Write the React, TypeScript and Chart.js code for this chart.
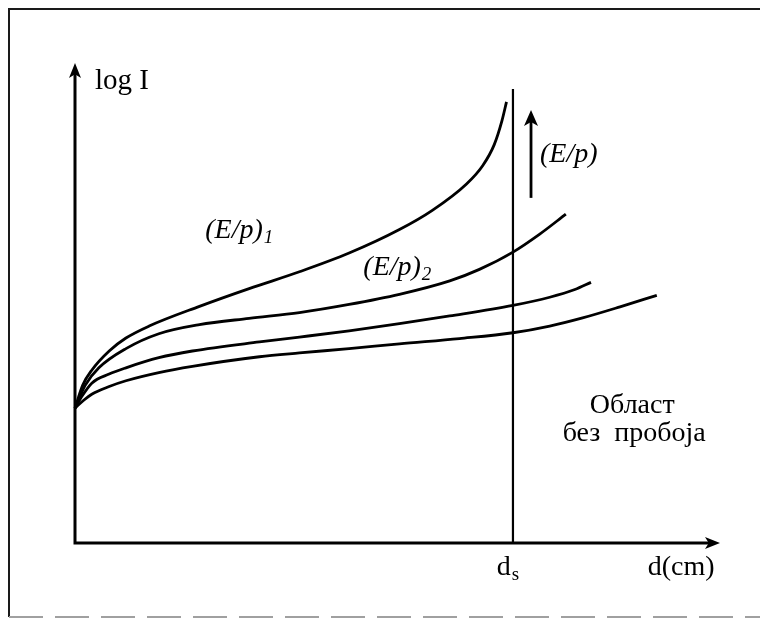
import { useEffect, useRef } from "react";
import { Chart, registerables } from "chart.js";

Chart.register(...registerables);

// d (arbitrary units) and log I (arbitrary units)
const curve1D = [0, 0.12, 0.26, 0.53, 0.79, 1.15, 1.93, 2.7, 3.48, 4.25, 5.03, 5.54, 6.07, 6.32, 6.5, 6.62, 6.69];
const curve1LogI = [2.81, 3.29, 3.6, 4.0, 4.27, 4.52, 4.93, 5.3, 5.65, 6.04, 6.53, 6.93, 7.48, 7.86, 8.3, 8.8, 9.19];

const curve2D = [0, 0.16, 0.37, 0.79, 1.3, 1.93, 2.7, 3.48, 4.25, 5.03, 5.81, 6.27, 6.79, 7.2, 7.61];
const curve2LogI = [2.81, 3.29, 3.65, 4.05, 4.36, 4.55, 4.68, 4.8, 4.97, 5.18, 5.46, 5.7, 6.06, 6.43, 6.85];

const curve3D = [0, 0.09, 0.26, 0.53, 0.79, 1.3, 1.82, 2.86, 3.48, 4.25, 5.03, 5.81, 6.79, 7.36, 7.75, 8.0];
const curve3LogI = [2.81, 3.02, 3.33, 3.52, 3.65, 3.86, 4.0, 4.19, 4.29, 4.42, 4.57, 4.73, 4.95, 5.12, 5.28, 5.43];

const curve4D = [0, 0.14, 0.26, 0.53, 0.79, 1.3, 1.82, 2.86, 3.48, 4.25, 5.03, 5.96, 6.79, 7.36, 7.87, 8.45, 9.02];
const curve4LogI = [2.81, 2.98, 3.1, 3.26, 3.38, 3.55, 3.68, 3.88, 3.96, 4.05, 4.15, 4.26, 4.38, 4.52, 4.69, 4.92, 5.16];

const dsLineD = [6.79, 6.79];
const dsLineLogI = [0, 9.46];

const ePArrowD = 7.07;
const ePArrowLogI = [7.19, 9.02];

const axisMax = 10;

const zip = (xs: number[], ys: number[]) => xs.map((x, i) => ({ x, y: ys[i] }));

const SERIF = '"Liberation Serif", "Times New Roman", serif';

function arrowHead(ctx: CanvasRenderingContext2D, x: number, y: number, dir: "up" | "right", len: number, half: number) {
  ctx.beginPath();
  if (dir === "up") {
    ctx.moveTo(x, y);
    ctx.lineTo(x - half, y + len);
    ctx.lineTo(x, y + len * 0.75);
    ctx.lineTo(x + half, y + len);
  } else {
    ctx.moveTo(x, y);
    ctx.lineTo(x - len, y - half);
    ctx.lineTo(x - len * 0.75, y);
    ctx.lineTo(x - len, y + half);
  }
  ctx.closePath();
  ctx.fill();
}

const diagramPlugin = {
  id: "diagram",
  beforeDraw(chart: any) {
    const ctx: CanvasRenderingContext2D = chart.ctx;
    ctx.save();
    ctx.fillStyle = "#fff";
    ctx.fillRect(0, 0, chart.width, chart.height);
    ctx.strokeStyle = "#1a1a1a";
    ctx.lineWidth = 2;
    ctx.beginPath();
    ctx.moveTo(chart.width + 5, 9);
    ctx.lineTo(9, 9);
    ctx.lineTo(9, 617);
    ctx.stroke();
    ctx.strokeStyle = "#a0a0a0";
    ctx.setLineDash([34, 12]);
    ctx.beginPath();
    ctx.moveTo(9, 617);
    ctx.lineTo(chart.width, 617);
    ctx.stroke();
    ctx.restore();
  },
  afterDatasetsDraw(chart: any) {
    const ctx: CanvasRenderingContext2D = chart.ctx;
    const xs = chart.scales.x;
    const ys = chart.scales.y;
    const px = (v: number) => xs.getPixelForValue(v);
    const py = (v: number) => ys.getPixelForValue(v);
    ctx.save();
    ctx.strokeStyle = "#000";
    ctx.fillStyle = "#000";
    ctx.lineWidth = 3;
    ctx.lineCap = "butt";
    // axes
    ctx.beginPath();
    ctx.moveTo(px(0), py(0) + 1.5);
    ctx.lineTo(px(0), py(axisMax) + 8);
    ctx.moveTo(px(0) - 1.5, py(0));
    ctx.lineTo(px(axisMax) - 8, py(0));
    ctx.stroke();
    arrowHead(ctx, px(0), py(axisMax), "up", 15, 6);
    arrowHead(ctx, px(axisMax), py(0), "right", 15, 6);
    // E/p arrow
    ctx.lineWidth = 2.8;
    ctx.beginPath();
    ctx.moveTo(px(ePArrowD), py(ePArrowLogI[0]));
    ctx.lineTo(px(ePArrowD), py(ePArrowLogI[1]) + 8);
    ctx.stroke();
    arrowHead(ctx, px(ePArrowD), py(ePArrowLogI[1]), "up", 16, 7);

    // labels
    ctx.textBaseline = "alphabetic";
    ctx.textAlign = "left";
    const sub = (main: string, subText: string, x: number, y: number, italic: boolean, size: number) => {
      ctx.font = `${italic ? "italic " : ""}${size}px ${SERIF}`;
      ctx.fillText(main, x, y);
      const w = ctx.measureText(main).width;
      ctx.font = `${italic ? "italic " : ""}19px ${SERIF}`;
      ctx.fillText(subText, x + w + 1, y + 5);
    };
    ctx.font = `29px ${SERIF}`;
    ctx.fillText("log I", px(0.31), py(9.46));
    sub("(E/p)", "1", px(2.02), py(6.35), true, 28);
    sub("(E/p)", "2", px(4.47), py(5.58), true, 28);
    ctx.font = `italic 28px ${SERIF}`;
    ctx.fillText("(E/p)", px(7.21), py(7.94));
    sub("d", "s", px(6.54), py(-0.67), false, 28);
    ctx.font = `28px ${SERIF}`;
    ctx.fillText("d(cm)", px(8.88), py(-0.67));
    ctx.textAlign = "center";
    ctx.font = `28px ${SERIF}`;
    ctx.fillText("Област", px(8.64), py(2.71));
    ctx.fillText("без  пробоја", px(8.67), py(2.12));
    ctx.restore();
  },
};

export default function App() {
  const canvasRef = useRef<HTMLCanvasElement | null>(null);

  useEffect(() => {
    const canvas = canvasRef.current;
    if (!canvas) return;
    const lineStyle = {
      borderColor: "#000",
      borderWidth: 2.8,
      pointRadius: 0,
      fill: false,
      clip: false as any,
    };
    const chart = new Chart(canvas, {
      type: "line",
      data: {
        datasets: [
          { ...lineStyle, label: "(E/p)1", data: zip(curve1D, curve1LogI), cubicInterpolationMode: "monotone" },
          { ...lineStyle, label: "(E/p)2", data: zip(curve2D, curve2LogI), cubicInterpolationMode: "monotone" },
          { ...lineStyle, label: "(E/p)3", data: zip(curve3D, curve3LogI), cubicInterpolationMode: "monotone" },
          { ...lineStyle, label: "(E/p)4", data: zip(curve4D, curve4LogI), cubicInterpolationMode: "monotone" },
          { ...lineStyle, label: "ds", borderWidth: 2.2, data: zip(dsLineD, dsLineLogI), tension: 0 },
        ],
      },
      options: {
        responsive: false,
        animation: false,
        devicePixelRatio: 1,
        layout: { padding: { left: 75, right: 40, top: 63, bottom: 76 } },
        scales: {
          x: { type: "linear", min: 0, max: axisMax, display: false },
          y: { type: "linear", min: 0, max: axisMax, display: false },
        },
        plugins: {
          legend: { display: false },
          tooltip: { enabled: false },
        },
      },
      plugins: [diagramPlugin],
    });
    return () => chart.destroy();
  }, []);

  return (
    <div style={{ position: "fixed", left: 0, top: 0, width: 760, height: 619, background: "#fff" }}>
      <canvas ref={canvasRef} width={760} height={619} style={{ display: "block", width: 760, height: 619 }} />
    </div>
  );
}
